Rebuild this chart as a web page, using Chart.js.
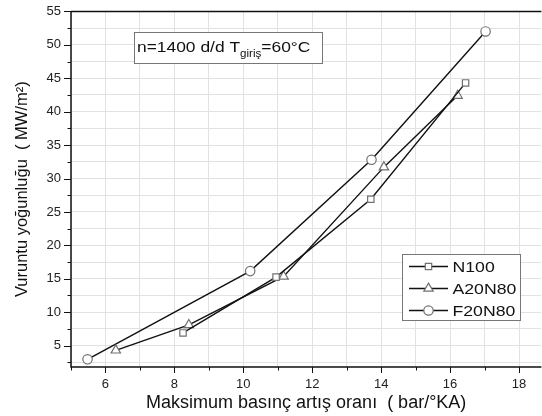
<!DOCTYPE html>
<html>
<head>
<meta charset="utf-8">
<script src="https://cdn.jsdelivr.net/npm/chart.js@4/dist/chart.umd.min.js"></script>
<style>
html,body{margin:0;padding:0;background:#fff;overflow:hidden;}
#wrap{width:542px;height:416px;position:relative;overflow:hidden;}
</style>
</head>
<body>
<div id="wrap"><canvas id="c" width="548" height="416"></canvas></div>
<script>
// ---- data ----
const seriesNames = ["N100", "A20N80", "F20N80"];
const n100X = [8.25, 10.95, 13.7, 16.45];
const n100Y = [6.9, 15.25, 26.9, 44.3];
const a20n80X = [6.3, 8.42, 11.17, 14.08, 16.22];
const a20n80Y = [4.3, 8.1, 15.35, 31.7, 42.4];
const f20n80X = [5.48, 10.2, 13.72, 17.03];
const f20n80Y = [2.95, 16.15, 32.8, 52.0];
const xTickLabels = [6, 8, 10, 12, 14, 16, 18];
const yTickLabels = [5, 10, 15, 20, 25, 30, 35, 40, 45, 50, 55];
const xTitle = "Maksimum basınç artış oranı  ( bar/°KA)";
const yTitle = "Vuruntu yoğunluğu  ( MW/m²)";
const noteMain = "n=1400 d/d T";
const noteSub = "giriş";
const noteEnd = "=60°C";

const pts = (xs, ys) => xs.map((x, i) => ({x: x, y: ys[i]}));
const FONT = "'Liberation Sans', Arial, sans-serif";
const styles = ['rect', 'triangle', 'circle'];
const radii = [4.5, 5.4, 4.7];

const datasets = [pts(n100X, n100Y), pts(a20n80X, a20n80Y), pts(f20n80X, f20n80Y)].map((d, i) => ({
  label: seriesNames[i],
  data: d,
  borderColor: '#111',
  borderWidth: 1.4,
  pointStyle: styles[i],
  pointRadius: radii[i],
  pointBackgroundColor: '#fff',
  pointBorderColor: '#707070',
  pointBorderWidth: 1.2,
  tension: 0,
  showLine: true,
  clip: false
}));

function stretchText(ctx, text, x, y, sx) {
  ctx.save();
  ctx.translate(x, y);
  ctx.scale(sx, 1);
  ctx.fillText(text, 0, 0);
  ctx.restore();
  return ctx.measureText(text).width * sx;
}

const decor = {
  id: 'decor',
  afterDraw(chart) {
    const ctx = chart.ctx;
    const xs = chart.scales.x, ys = chart.scales.y;
    const a = chart.chartArea;
    ctx.save();
    // axes lines
    ctx.strokeStyle = '#111';
    ctx.lineWidth = 1.5;
    ctx.beginPath();
    ctx.moveTo(a.left, a.top); ctx.lineTo(a.left, a.bottom); ctx.lineTo(a.right, a.bottom);
    ctx.moveTo(a.left, a.top); ctx.lineTo(a.right, a.top);
    ctx.stroke();
    // ticks
    ctx.lineWidth = 1;
    ctx.beginPath();
    for (let v = 5; v <= 18; v++) {
      const px = Math.round(xs.getPixelForValue(v)) + 0.5;
      const len = (v % 2 === 0) ? 6 : 3.5;
      ctx.moveTo(px, a.bottom); ctx.lineTo(px, a.bottom + len);
    }
    for (let v = 2.5; v <= 55; v += 2.5) {
      const py = Math.round(ys.getPixelForValue(v)) + 0.5;
      const len = (v % 5 === 0) ? 7 : 3.5;
      ctx.moveTo(a.left, py); ctx.lineTo(a.left - len, py);
    }
    ctx.stroke();

    // annotation box
    const bx = 134, by = 32, bw = 188, bh = 31;
    ctx.fillStyle = '#fff';
    ctx.fillRect(bx, by, bw, bh);
    ctx.strokeStyle = '#777';
    ctx.lineWidth = 1;
    ctx.strokeRect(bx + 0.5, by + 0.5, bw, bh);
    ctx.fillStyle = '#111';
    ctx.textBaseline = 'alphabetic';
    ctx.textAlign = 'left';
    const sx = 1.16;
    let tx = bx + 3;
    const base = by + 20;
    ctx.font = '15px ' + FONT;
    tx += stretchText(ctx, noteMain, tx, base, sx);
    ctx.font = '10px ' + FONT;
    tx += stretchText(ctx, noteSub, tx, base + 5, sx);
    ctx.font = '15px ' + FONT;
    stretchText(ctx, noteEnd, tx, base, sx);

    // legend
    const lx = 402, ly = 254, lw = 118, lh = 66;
    ctx.fillStyle = '#fff';
    ctx.fillRect(lx, ly, lw, lh);
    ctx.strokeStyle = '#777';
    ctx.strokeRect(lx + 0.5, ly + 0.5, lw, lh);
    const rows = [266.5, 288.5, 310.5];
    chart.data.datasets.forEach((ds, i) => {
      const y = rows[i];
      ctx.strokeStyle = '#111';
      ctx.lineWidth = 1.4;
      ctx.beginPath(); ctx.moveTo(409, y); ctx.lineTo(448, y); ctx.stroke();
      ctx.fillStyle = '#fff';
      ctx.strokeStyle = '#707070';
      ctx.lineWidth = 1.2;
      Chart.helpers.drawPoint(ctx, {pointStyle: ds.pointStyle, radius: ds.pointRadius, rotation: 0, borderWidth: 1.2}, 428.5, y);
      ctx.fillStyle = '#111';
      ctx.font = '15.5px ' + FONT;
      ctx.textBaseline = 'middle';
      stretchText(ctx, ds.label, 452.5, y + 1, 1.14);
    });
    ctx.restore();
  }
};

const zeroPad = s => { s.paddingTop = 0; s.paddingBottom = 0; s.paddingLeft = 0; s.paddingRight = 0; };

new Chart(document.getElementById('c'), {
  type: 'scatter',
  data: {datasets},
  plugins: [decor],
  options: {
    responsive: false,
    animation: false,
    devicePixelRatio: 1,
    layout: {padding: {top: 11.4, right: 0, left: 0, bottom: 0}},
    plugins: {legend: {display: false}, tooltip: {enabled: false}},
    scales: {
      x: {
        type: 'linear', min: 5, max: 18.65,
        afterBuildTicks: s => { const t = []; for (let v = 5; v <= 18; v++) t.push({value: v}); s.ticks = t; },
        afterFit: s => { s.height = 49; zeroPad(s); },
        border: {display: false},
        grid: {color: '#e2e2e2', lineWidth: 1, drawTicks: false},
        ticks: {
          padding: 10, color: '#222', font: {family: FONT, size: 13},
          maxRotation: 0, autoSkip: false,
          callback: v => xTickLabels.includes(v) ? String(v) : ''
        },
        title: {display: true, text: xTitle, color: '#111', font: {family: FONT, size: 18}, padding: {top: 0, bottom: 2}}
      },
      y: {
        type: 'linear', min: 1.8, max: 55,
        afterBuildTicks: s => { const t = []; for (let v = 2.5; v <= 55; v += 2.5) t.push({value: v}); s.ticks = t; },
        afterFit: s => { s.width = 71; zeroPad(s); },
        border: {display: false},
        grid: {color: '#e2e2e2', lineWidth: 1, drawTicks: false},
        ticks: {
          padding: 10, color: '#222', font: {family: FONT, size: 13},
          autoSkip: false,
          callback: v => yTickLabels.includes(v) ? String(v) : ''
        },
        title: {display: true, text: yTitle, color: '#111', font: {family: FONT, size: 16.5}, padding: {top: 13, bottom: 0}}
      }
    }
  }
});
</script>
</body>
</html>
